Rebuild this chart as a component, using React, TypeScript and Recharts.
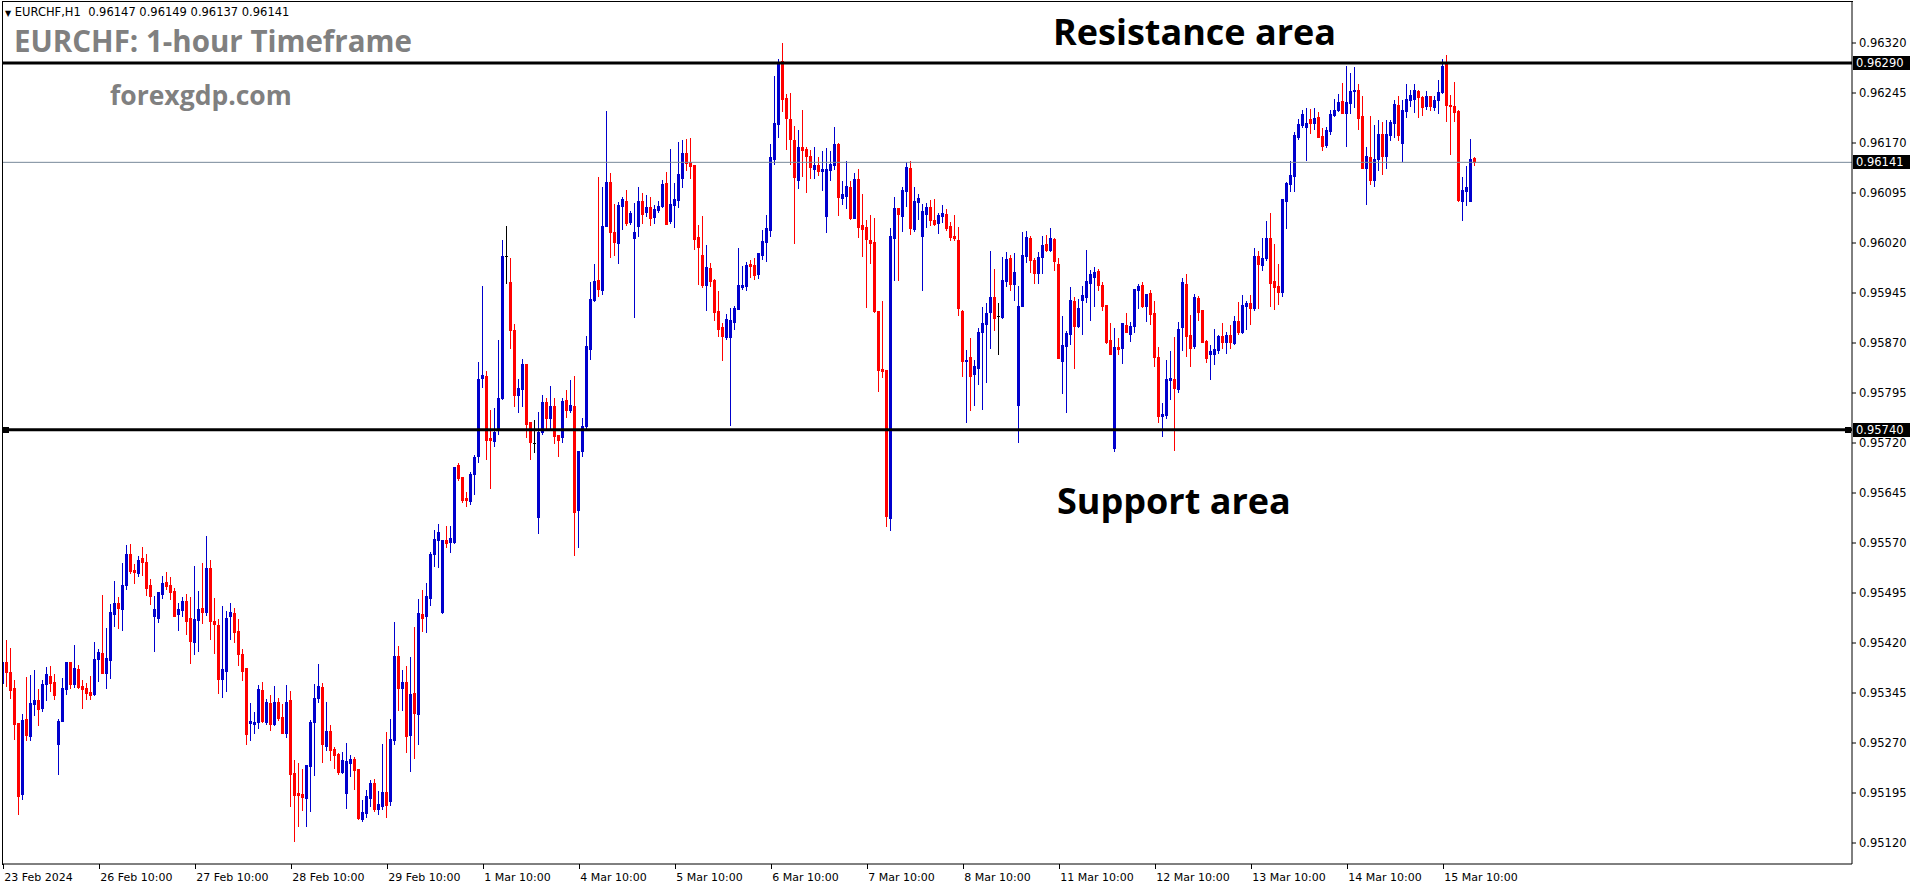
import { ComposedChart, Bar, XAxis, YAxis, ReferenceLine } from 'recharts';

// EURCHF H1 candles, 23 Feb 10:00 .. 15 Mar 18:00, prices in points (1e-5)
const opens = [
  95360, 95392, 95377, 95353, 95300, 95194, 95306, 95281, 95329, 95335, 95323, 95359, 95371, 95362,
  95269, 95303, 95351, 95392, 95359, 95381, 95356, 95353, 95347, 95344, 95396, 95405, 95375, 95395,
  95464, 95480, 95471, 95507, 95554, 95530, 95525, 95548, 95542, 95507,
  95461, 95458, 95494, 95512, 95507, 95498, 95464, 95470, 95483, 95458, 95422, 95455, 95473, 95467,
  95533, 95453, 95447, 95366, 95378, 95461, 95465, 95438, 95404, 95383,
  95300, 95299, 95302, 95350, 95302, 95330, 95299, 95332, 95309, 95285, 95335, 95225, 95195, 95194,
  95188, 95236, 95302, 95338, 95354, 95266, 95288, 95261, 95254, 95227,
  95195, 95240, 95246, 95231, 95156, 95165, 95188, 95210, 95171, 95176, 95197, 95183, 95275, 95401,
  95352, 95362, 95282, 95345, 95314, 95464, 95461, 95488, 95554, 95574,
  95466, 95574, 95571, 95571, 95687, 95669, 95638, 95633, 95673, 95701, 95818, 95820, 95727, 95723,
  95742, 95787, 96000, 95962, 95890, 95792, 95801, 95838, 95752, 95720,
  95609, 95737, 95781, 95758, 95775, 95732, 95729, 95784, 95769, 95775, 95619, 95708, 95745, 95861,
  95935, 95965, 95950, 96045, 96112, 96037, 96020, 96076, 96083, 96052,
  96028, 96046, 96083, 96067, 96074, 96059, 96070, 96076, 96110, 96053, 96077, 96085, 96118, 96155,
  96142, 96137, 96029, 96002, 95957, 95983, 95965, 95918, 95894, 95879,
  95879, 95902, 95921, 95954, 95956, 95989, 95987, 95974, 96002, 96022, 96040, 96146, 96199, 96293,
  96238, 96206, 96175, 96115, 96164, 96161, 96151, 96131, 96137, 96128,
  96061, 96130, 96137, 96169, 96088, 96091, 96104, 96058, 96116, 96047, 96044, 96025, 96022, 95918,
  95831, 95830, 95607, 96028, 96073, 96061, 96098, 96133, 96041, 96082,
  96031, 96064, 96074, 96055, 96050, 96061, 96064, 96046, 96031, 96025, 95918, 95843, 95849, 95823,
  95833, 95886, 95899, 95916, 95939, 95911, 95909, 95963, 95998, 95958,
  95777, 95926, 96001, 96028, 95995, 95975, 95999, 96019, 96010, 96026, 95989, 95843, 95866, 95884,
  95933, 95896, 95935, 95939, 95960, 95969, 95978, 95957, 95927, 95875,
  95712, 95864, 95863, 95897, 95884, 95896, 95950, 95957, 95926, 95945, 95915, 95849, 95760, 95762,
  95815, 95816, 95801, 95894, 95959, 95882, 95865, 95937, 95920, 95873,
  95854, 95854, 95860, 95880, 95872, 95882, 95870, 95903, 95887, 95926, 95930, 95922, 96001, 95987,
  95998, 96028, 95963, 95956, 95947, 96083, 96109, 96121, 96179, 96197,
  96194, 96206, 96200, 96209, 96181, 96167, 96188, 96212, 96220, 96233, 96215, 96230, 96248, 96250,
  96211, 96132, 96149, 96115, 96146, 96184, 96151, 96182, 96200, 96227,
  96170, 96218, 96235, 96236, 96248, 96239, 96225, 96241, 96224, 96234, 96247, 96289, 96227, 96226,
  96218, 96083, 96098, 96083, 96147,
];
const highs = [
  95437, 95425, 95413, 95365, 95300, 95314, 95369, 95372, 95380, 95351, 95365, 95384, 95386, 95374,
  95306, 95368, 95392, 95392, 95417, 95387, 95365, 95360, 95371, 95422, 95411, 95492, 95443, 95479,
  95513, 95489, 95540, 95567, 95569, 95539, 95551, 95564, 95554, 95516,
  95491, 95497, 95521, 95527, 95519, 95503, 95480, 95489, 95494, 95489, 95536, 95498, 95540, 95581,
  95545, 95488, 95456, 95476, 95468, 95480, 95473, 95456, 95411, 95383,
  95330, 95317, 95357, 95362, 95336, 95342, 95356, 95338, 95329, 95357, 95348, 95245, 95240, 95231,
  95237, 95305, 95359, 95389, 95360, 95332, 95297, 95264, 95255, 95257,
  95270, 95252, 95249, 95231, 95185, 95200, 95215, 95216, 95198, 95269, 95287, 95306, 95451, 95415,
  95380, 95386, 95399, 95444, 95486, 95500, 95510, 95557, 95589, 95598,
  95575, 95596, 95596, 95684, 95690, 95669, 95647, 95676, 95702, 95842, 95956, 95828, 95770, 95773,
  95874, 96025, 96046, 95998, 95899, 95816, 95846, 95838, 95752, 95755,
  95767, 95792, 95788, 95806, 95788, 95732, 95788, 95800, 95815, 95820, 95708, 95757, 95880, 95962,
  95989, 96119, 96104, 96218, 96125, 96079, 96082, 96089, 96100, 96068,
  96080, 96104, 96095, 96092, 96089, 96077, 96083, 96115, 96127, 96161, 96110, 96172, 96175, 96176,
  96178, 96137, 96047, 96061, 96017, 95990, 95966, 95948, 95900, 95914,
  95923, 95926, 96013, 95986, 95992, 95995, 95998, 96005, 96040, 96062, 96169, 96271, 96296, 96320,
  96244, 96245, 96196, 96190, 96220, 96164, 96160, 96164, 96149, 96158,
  96163, 96158, 96194, 96170, 96113, 96143, 96113, 96125, 96131, 96094, 96055, 96062, 96058, 95918,
  95933, 95830, 96043, 96089, 96073, 96104, 96142, 96143, 96104, 96094,
  96079, 96080, 96085, 96086, 96065, 96077, 96071, 96052, 96062, 96044, 95920, 95860, 95878, 95845,
  95893, 95924, 95930, 96008, 95981, 95930, 95999, 96007, 96002, 96005,
  95956, 96037, 96038, 96031, 95998, 96007, 96031, 96032, 96043, 96028, 95998, 95911, 95888, 95954,
  95939, 95936, 95956, 96010, 95980, 95984, 95981, 95962, 95927, 95900,
  95893, 95878, 95900, 95915, 95902, 95951, 95959, 95962, 95944, 95950, 95933, 95864, 95780, 95845,
  95858, 95879, 95902, 95968, 95974, 95912, 95943, 95940, 95920, 95875,
  95867, 95891, 95882, 95900, 95886, 95897, 95910, 95932, 95942, 95933, 95942, 96013, 96008, 96028,
  96053, 96065, 96019, 95989, 96086, 96112, 96143, 96187, 96206, 96220,
  96223, 96221, 96223, 96217, 96193, 96194, 96220, 96236, 96244, 96260, 96286, 96275, 96284, 96259,
  96241, 96164, 96211, 96197, 96205, 96202, 96205, 96205, 96235, 96241,
  96235, 96259, 96250, 96259, 96250, 96241, 96248, 96241, 96241, 96265, 96296, 96302, 96242, 96262,
  96220, 96119, 96136, 96176, 96149,
];
const lows = [
  95349, 95355, 95338, 95276, 95163, 95186, 95275, 95274, 95312, 95297, 95318, 95335, 95348, 95336,
  95224, 95303, 95344, 95353, 95354, 95353, 95323, 95336, 95336, 95342, 95363, 95375, 95353, 95368,
  95446, 95443, 95440, 95501, 95525, 95510, 95521, 95522, 95492, 95479,
  95408, 95452, 95488, 95501, 95486, 95461, 95440, 95461, 95434, 95390, 95404, 95408, 95450, 95462,
  95426, 95405, 95345, 95339, 95348, 95426, 95422, 95387, 95365, 95269,
  95275, 95285, 95293, 95302, 95299, 95290, 95297, 95305, 95285, 95279, 95176, 95123, 95146, 95170,
  95146, 95168, 95222, 95332, 95242, 95260, 95245, 95233, 95224, 95225,
  95173, 95221, 95201, 95156, 95153, 95159, 95176, 95168, 95164, 95171, 95159, 95177, 95269, 95319,
  95319, 95257, 95228, 95248, 95269, 95438, 95437, 95477, 95536, 95534,
  95465, 95564, 95556, 95570, 95665, 95631, 95625, 95629, 95644, 95692, 95804, 95696, 95653, 95716,
  95733, 95786, 95960, 95863, 95775, 95767, 95775, 95729, 95696, 95707,
  95585, 95733, 95743, 95743, 95720, 95701, 95721, 95759, 95767, 95552, 95564, 95700, 95742, 95846,
  95933, 95941, 95944, 96045, 95999, 96002, 95990, 96041, 96047, 96049,
  95909, 96031, 96050, 96061, 96047, 96050, 96067, 96074, 96049, 96050, 96044, 96074, 96104, 96130,
  96118, 96011, 95959, 95954, 95920, 95956, 95905, 95881, 95845, 95876,
  95747, 95891, 95921, 95951, 95950, 95969, 95966, 95968, 95996, 95993, 96030, 96139, 96179, 96218,
  96161, 96139, 96020, 96103, 96121, 96097, 96118, 96118, 96122, 96100,
  96037, 96115, 96131, 96062, 96079, 96073, 96056, 96058, 96029, 96001, 95924, 95990, 95917, 95798,
  95819, 95595, 95589, 95965, 95965, 96038, 96076, 96034, 96038, 96056,
  95950, 96044, 96047, 96047, 96035, 96052, 96040, 96025, 96025, 95912, 95820, 95752, 95770, 95777,
  95808, 95771, 95812, 95862, 95889, 95854, 95908, 95956, 95950, 95935,
  95722, 95926, 95992, 95977, 95960, 95960, 95975, 96008, 96008, 95980, 95848, 95795, 95767, 95869,
  95833, 95894, 95884, 95932, 95905, 95926, 95950, 95920, 95870, 95854,
  95708, 95854, 95840, 95887, 95873, 95887, 95923, 95924, 95903, 95899, 95835, 95751, 95730, 95757,
  95786, 95710, 95797, 95860, 95851, 95836, 95863, 95905, 95871, 95842,
  95816, 95839, 95855, 95863, 95855, 95863, 95869, 95884, 95885, 95891, 95899, 95920, 95923, 95980,
  95995, 95926, 95921, 95929, 95941, 96043, 96098, 96098, 96176, 96194,
  96145, 96185, 96191, 96179, 96160, 96164, 96184, 96211, 96218, 96215, 96166, 96215, 96224, 96191,
  96133, 96079, 96109, 96105, 96130, 96124, 96133, 96175, 96179, 96175,
  96143, 96209, 96225, 96217, 96209, 96212, 96221, 96220, 96220, 96215, 96245, 96203, 96154, 96203,
  96083, 96055, 96077, 96083, 96137,
];
const closes = [
  95392, 95376, 95350, 95299, 95190, 95305, 95282, 95330, 95335, 95321, 95359, 95374, 95360, 95342,
  95303, 95353, 95392, 95359, 95383, 95354, 95351, 95345, 95342, 95396, 95407, 95375, 95398, 95467,
  95480, 95473, 95507, 95554, 95528, 95527, 95545, 95542, 95503, 95491,
  95471, 95497, 95510, 95506, 95497, 95461, 95471, 95483, 95453, 95423, 95456, 95471, 95467, 95533,
  95453, 95449, 95366, 95381, 95458, 95467, 95437, 95404, 95378, 95284,
  95303, 95302, 95351, 95303, 95332, 95299, 95332, 95308, 95285, 95332, 95224, 95192, 95192, 95189,
  95237, 95302, 95338, 95356, 95269, 95288, 95260, 95252, 95227, 95245,
  95243, 95246, 95230, 95158, 95167, 95191, 95210, 95171, 95179, 95197, 95177, 95276, 95401, 95352,
  95362, 95281, 95344, 95315, 95465, 95458, 95491, 95554, 95576, 95586,
  95574, 95570, 95577, 95684, 95668, 95635, 95634, 95673, 95699, 95816, 95822, 95724, 95724, 95737,
  95788, 96001, 96000, 95890, 95792, 95803, 95838, 95749, 95721, 95720,
  95737, 95781, 95758, 95775, 95730, 95724, 95783, 95770, 95777, 95617, 95708, 95745, 95865, 95936,
  95963, 95951, 96046, 96112, 96036, 96022, 96077, 96086, 96050, 96065,
  96037, 96083, 96064, 96074, 96058, 96071, 96076, 96109, 96049, 96079, 96086, 96124, 96155, 96140,
  96136, 96026, 96014, 95957, 95984, 95963, 95917, 95891, 95881, 95906,
  95905, 95923, 95957, 95957, 95987, 95986, 95972, 96005, 96023, 96043, 96149, 96200, 96292, 96236,
  96208, 96176, 96119, 96164, 96160, 96151, 96134, 96137, 96128, 96131,
  96131, 96139, 96169, 96089, 96094, 96106, 96058, 96116, 96044, 96041, 96026, 96020, 95918, 95830,
  95828, 95610, 96031, 96073, 96064, 96100, 96134, 96043, 96083, 96088,
  96068, 96074, 96055, 96049, 96062, 96065, 96043, 96029, 96028, 95923, 95843, 95845, 95821, 95836,
  95887, 95900, 95915, 95939, 95908, 95911, 95965, 95996, 95958, 95977,
  95926, 96002, 96029, 95995, 95975, 95999, 96017, 96010, 96028, 95993, 95848, 95867, 95885, 95935,
  95896, 95923, 95942, 95963, 95974, 95977, 95957, 95926, 95872, 95854,
  95864, 95861, 95900, 95887, 95896, 95951, 95956, 95926, 95944, 95914, 95849, 95760, 95763, 95816,
  95817, 95802, 95891, 95961, 95881, 95863, 95939, 95917, 95872, 95848,
  95858, 95861, 95880, 95872, 95882, 95872, 95903, 95887, 95927, 95930, 95923, 96001, 95989, 95998,
  96028, 95960, 95954, 95947, 96086, 96110, 96122, 96182, 96199, 96214,
  96200, 96200, 96208, 96179, 96166, 96190, 96214, 96220, 96232, 96215, 96232, 96248, 96250, 96208,
  96133, 96151, 96114, 96146, 96183, 96151, 96184, 96202, 96229, 96182,
  96220, 96236, 96242, 96250, 96239, 96224, 96241, 96226, 96235, 96247, 96286, 96227, 96225, 96217,
  96085, 96100, 96104, 96146, 96141,
];

const xLabels = [
  '23 Feb 2024', '26 Feb 10:00', '27 Feb 10:00', '28 Feb 10:00', '29 Feb 10:00', '1 Mar 10:00',
  '4 Mar 10:00', '5 Mar 10:00', '6 Mar 10:00', '7 Mar 10:00', '8 Mar 10:00', '11 Mar 10:00',
  '12 Mar 10:00', '13 Mar 10:00', '14 Mar 10:00', '15 Mar 10:00',
];
const yTicks = [
  0.9632, 0.96245, 0.9617, 0.96095, 0.9602, 0.95945, 0.9587, 0.95795, 0.9572, 0.95645, 0.9557,
  0.95495, 0.9542, 0.95345, 0.9527, 0.95195, 0.9512,
];
const resistance = 0.9629;
const support = 0.9574;
const lastPrice = 0.96141;
const lastBar = ['0.96147', '0.96149', '0.96137', '0.96141'];

const PT = 1e-5;
const data = closes.map((c, i) => ({
  k: i,
  o: opens[i] * PT,
  h: highs[i] * PT,
  l: lows[i] * PT,
  c: c * PT,
  range: [lows[i] * PT, highs[i] * PT],
}));

const BULL = '#0000cd';
const BEAR = '#ff0000';
const AXIS_FONT = '"DejaVu Sans", sans-serif';
const TITLE_FONT = '"Open Sans", sans-serif';

function Candle(props: any) {
  const { x, y, width, height, payload } = props;
  if (x == null || y == null) return null;
  const { o, h, l, c } = payload;
  const top = Math.min(y, y + height);
  const span = Math.abs(height);
  const py = (p: number) => Math.round(top + ((h - p) / (h - l || 1)) * span);
  const cx = Math.floor(x + width / 2);
  const color = c > o ? BULL : c < o ? BEAR : '#000';
  const bTop = py(Math.max(o, c));
  const bBot = py(Math.min(o, c));
  return (
    <g shapeRendering="crispEdges">
      <rect x={cx} y={py(h)} width={1} height={Math.max(1, py(l) - py(h) + 1)} fill={color} />
      <rect x={cx - 1} y={bTop} width={3} height={Math.max(1, bBot - bTop + 1)} fill={color} />
    </g>
  );
}

function XTick(props: any) {
  const { x, payload } = props;
  const label = xLabels[Math.round(payload.value / 24)];
  return (
    <g>
      <line x1={x} x2={x} y1={864} y2={869} stroke="#000" shapeRendering="crispEdges" />
      <text x={x + 1} y={881} fontSize={11} fontFamily={AXIS_FONT} fill="#000" textAnchor="start">
        {label}
      </text>
    </g>
  );
}

function PriceBox(text: string, handles: boolean) {
  return (props: any) => {
    const vb = props.viewBox || {};
    const right = vb.x + vb.width;
    const yy = Math.round(vb.y);
    return (
      <g>
        {handles && (
          <g shapeRendering="crispEdges">
            <rect x={vb.x + 1} y={yy - 3} width={6} height={6} fill="#000" />
            <rect x={right - 7} y={yy - 3} width={6} height={6} fill="#000" />
          </g>
        )}
        <rect x={right + 1} y={yy - 7} width={57} height={14} fill="#000" shapeRendering="crispEdges" />
        <text x={right + 4} y={yy + 4} fontSize={11.5} fontFamily={AXIS_FONT} fill="#fff">
          {text}
        </text>
      </g>
    );
  };
}

const overlay: React.CSSProperties = { position: 'absolute', whiteSpace: 'nowrap', lineHeight: 1 };

export default function App() {
  return (
    <div style={{ position: 'absolute', left: 0, top: 0, width: 1916, height: 884, background: '#fff', overflow: 'hidden' }}>
      <ComposedChart width={1916} height={884} data={data} margin={{ top: 1, right: 0, bottom: 0, left: 2 }}>
        <XAxis
          dataKey="k"
          type="number"
          domain={[-0.325, 462.175]}
          allowDataOverflow
          ticks={xLabels.map((_, i) => i * 24)}
          interval={0}
          tick={<XTick />}
          tickLine={false}
          height={20}
          axisLine={{ stroke: '#000' }}
        />
        <YAxis
          orientation="right"
          type="number"
          domain={[0.950885, 0.96383]}
          allowDataOverflow
          ticks={yTicks}
          interval={0}
          width={64}
          tickSize={4}
          tickMargin={3}
          tickFormatter={(v: number) => v.toFixed(5)}
          tick={{ fontSize: 11.5, fill: '#000', fontFamily: AXIS_FONT }}
          axisLine={{ stroke: '#000' }}
          tickLine={{ stroke: '#000' }}
        />
        <ReferenceLine y={lastPrice} stroke="#778899" strokeWidth={1} label={PriceBox(lastPrice.toFixed(5), false)} />
        <ReferenceLine y={resistance} stroke="#000" strokeWidth={3} label={PriceBox(resistance.toFixed(5), false)} />
        <ReferenceLine y={support} stroke="#000" strokeWidth={3} label={PriceBox(support.toFixed(5), true)} />
        <Bar dataKey="range" barSize={3} shape={<Candle />} isAnimationActive={false} />
      </ComposedChart>

      <div style={{ position: 'absolute', left: 2, top: 1, width: 1850, height: 863, borderLeft: '1px solid #000', borderTop: '1px solid #000', pointerEvents: 'none' }} />

      <div style={{ ...overlay, left: 5, top: 7, fontSize: 11.5, fontFamily: AXIS_FONT, color: '#000' }}>
        <span style={{ fontSize: 8 }}>▼</span> EURCHF,H1&nbsp;&nbsp;{lastBar.join(' ')}
      </div>
      <div style={{ ...overlay, left: 14, top: 26, fontSize: 29.5, fontWeight: 700, fontFamily: TITLE_FONT, color: '#808080' }}>
        EURCHF: 1-hour Timeframe
      </div>
      <div style={{ ...overlay, left: 110, top: 82, fontSize: 26.5, fontWeight: 700, fontFamily: TITLE_FONT, color: '#808080' }}>
        forexgdp.com
      </div>
      <div style={{ ...overlay, left: 1053, top: 14, fontSize: 36, fontWeight: 700, fontFamily: TITLE_FONT, color: '#000' }}>
        Resistance area
      </div>
      <div style={{ ...overlay, left: 1057, top: 483, fontSize: 36, fontWeight: 700, fontFamily: TITLE_FONT, color: '#000' }}>
        Support area
      </div>
    </div>
  );
}
